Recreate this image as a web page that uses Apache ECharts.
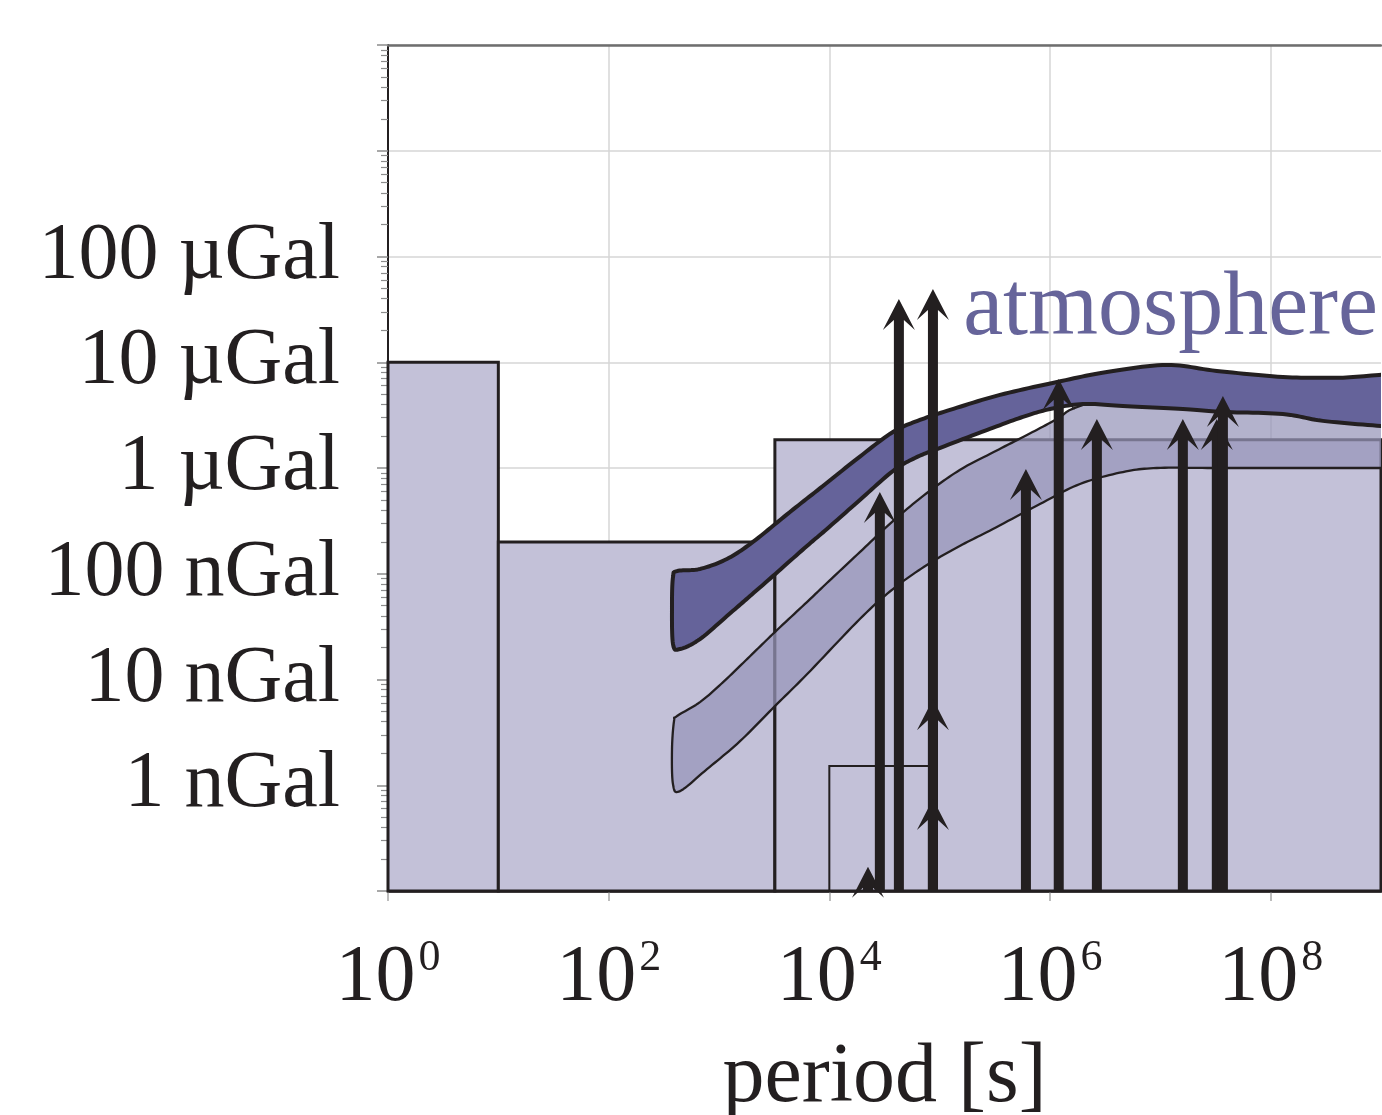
<!DOCTYPE html>
<html>
<head>
<meta charset="utf-8">
<script src="https://cdn.jsdelivr.net/npm/echarts@6/dist/echarts.min.js"></script>
<style>
html, body { margin: 0; padding: 0; background: #fff; }
#chart { width: 1382px; height: 1115px; }
</style>
</head>
<body>
<div id="chart"></div>
<script>
// x: period [s], y: amplitude [nGal]
var xMin = 1, xMax = 1e9;
var yMin = 0.1, yMax = 1e7;
var xTicks = [1, 1e2, 1e4, 1e6, 1e8];
var yTickValues = [1, 10, 100, 1e3, 1e4, 1e5];
var yTickLabels = ['1 nGal', '10 nGal', '100 nGal', '1 µGal', '10 µGal', '100 µGal'];
var minorMantissa = [2, 3, 4, 5, 6, 7, 8, 9];
var minorDecades = [0.1, 1, 10, 100, 1e3, 1e4, 1e5, 1e6];

// boxes: period from, period to, amplitude top
var boxFrom = [1, 10, 3210];
var boxTo = [10, 3210, 1e9];
var boxTop = [1e4, 200, 1850];
var smallBox = [1e4, 82000, 1.52];

// atmosphere, dark band (runs a little past the right edge, clipped)
var atmUpperP = [416, 672, 1180, 2030, 4400, 8750, 17800, 37700, 66200, 124000, 352000, 1.16e6, 3.28e6, 1.15e7, 3.25e7, 1.29e8, 4e8, 2e9];
var atmUpperA = [106, 111, 138, 200, 384, 676, 1220, 2190, 2845, 3540, 4910, 6510, 8090, 9430, 8280, 7260, 7120, 7100];
var atmLowerP = [2e9, 1e9, 2.97e8, 1.29e8, 3.69e7, 1.6e7, 4.58e6, 1.99e6, 1e6, 568000, 285000, 94400, 59700, 37700, 18900, 9510, 6270, 3080, 1910, 1180, 672, 443];
var atmLowerA = [2450, 2500, 2790, 3240, 3390, 3610, 3860, 4030, 3610, 3040, 2340, 1510, 1244, 937, 498, 265, 183, 95, 61.5, 39.8, 24.1, 19.4];
var atmCapP = [383, 375, 383];
var atmCapA = [21.6, 51.7, 93];

// atmosphere, lighter band
var band2UpperP = [416, 672, 1090, 1910, 3210, 6270, 9510, 18900, 37700, 76600, 152000, 285000, 618000, 1.16e6, 1.68e6, 4.3e6, 3.47e7, 1e9, 2e9];
var band2UpperA = [4.51, 6.11, 9.45, 16.6, 28.1, 54, 81.7, 160, 315, 580, 957, 1356, 2052, 2910, 3698, 4700, 4700, 3780, 3700];
var band2LowerP = [2e9, 1e9, 1.5e8, 3e7, 9.3e6, 4.58e6, 1.87e6, 810000, 304000, 152000, 76600, 37700, 18900, 6270, 3210, 1550, 778, 443];
var band2LowerA = [1000, 1000, 1000, 1000, 1000, 916, 706, 456, 265, 183, 121, 71.7, 37.3, 11.2, 5.6, 2.61, 1.42, 0.88];
var band2CapP = [383, 375, 391];
var band2CapA = [1.02, 2.2, 4.04];

// tidal lines
var tidePeriods = [22400, 28700, 42700, 86900, 86900, 86900, 605000, 1.2e6, 2.66e6, 1.6e7, 3.25e7, 3.69e7];
var tideAmps = [0.17, 593, 39700, 49400, 6.5, 0.74, 979, 6950, 2910, 2910, 2910, 4800];

var FONT = 'Liberation Serif';
var INK = '#231f20';

function zip(a, b) {
  return a.map(function (v, i) { return [v, b[i]]; });
}

var minorTicks = [];
minorDecades.forEach(function (d) {
  minorMantissa.forEach(function (m) { minorTicks.push(d * m); });
});

// closed catmull-rom through the outline, sampled densely (pixel space)
function smoothLoop(px) {
  var out = [], n = px.length, steps = 12;
  for (var i = 0; i < n; i++) {
    var p0 = px[(i - 1 + n) % n], p1 = px[i], p2 = px[(i + 1) % n], p3 = px[(i + 2) % n];
    var c1 = [p1[0] + (p2[0] - p0[0]) / 6, p1[1] + (p2[1] - p0[1]) / 6];
    var c2 = [p2[0] - (p3[0] - p1[0]) / 6, p2[1] - (p3[1] - p1[1]) / 6];
    for (var s = 0; s < steps; s++) {
      var t = s / steps, u = 1 - t;
      out.push([
        u * u * u * p1[0] + 3 * u * u * t * c1[0] + 3 * u * t * t * c2[0] + t * t * t * p2[0],
        u * u * u * p1[1] + 3 * u * u * t * c1[1] + 3 * u * t * t * c2[1] + t * t * t * p2[1]
      ]);
    }
  }
  return out;
}

function bandSeries(pts, style) {
  return {
    type: 'custom',
    coordinateSystem: 'cartesian2d',
    silent: true,
    clip: true,
    data: pts,
    renderItem: function (params, api) {
      if (params.dataIndex !== 0) return null;
      var px = pts.map(function (p) { return api.coord(p); });
      return {
        type: 'polygon',
        shape: { points: smoothLoop(px) },
        style: style
      };
    }
  };
}

var atmPts = zip(atmUpperP, atmUpperA).concat(zip(atmLowerP, atmLowerA), zip(atmCapP, atmCapA));
var band2Pts = zip(band2UpperP, band2UpperA).concat(zip(band2LowerP, band2LowerA), zip(band2CapP, band2CapA));

var chart = echarts.init(document.getElementById('chart'));

var option = {
  animation: false,
  grid: { left: 388, right: 1, top: 45, bottom: 224, outerBoundsMode: 'none', containLabel: false },
  xAxis: [{
    type: 'log',
    logBase: 10,
    min: xMin,
    max: xMax,
    name: 'period [s]',
    nameLocation: 'middle',
    nameGap: 146,
    nameTextStyle: { fontFamily: FONT, fontSize: 84, color: INK },
    axisLine: { lineStyle: { color: INK, width: 2.5 } },
    axisTick: { show: true, length: 10, customValues: xTicks, lineStyle: { color: '#a8a8a8', width: 1.5 } },
    splitLine: { show: true, lineStyle: { color: '#d6d6d6', width: 1.5 } },
    axisLabel: {
      customValues: xTicks,
      margin: 45,
      formatter: function (v) {
        return '{b|10}{s|' + Math.round(Math.log10(v)) + '}';
      },
      rich: {
        b: { fontFamily: FONT, fontSize: 80, color: INK },
        s: { fontFamily: FONT, fontSize: 44, color: INK, padding: [0, 0, 42, 3] }
      }
    }
  }, {
    type: 'log',
    min: xMin,
    max: xMax,
    position: 'top',
    axisLine: { lineStyle: { color: '#6e6e6e', width: 2.5 } },
    axisTick: { show: false },
    axisLabel: { show: false },
    splitLine: { show: false }
  }],
  yAxis: [{
    type: 'log',
    logBase: 10,
    min: yMin,
    max: yMax,
    splitNumber: 8,
    axisLine: { show: true, lineStyle: { color: INK, width: 2 } },
    axisTick: { show: true, length: 11, lineStyle: { color: '#8c8c8c', width: 1.5 } },
    splitLine: { show: true, lineStyle: { color: '#d6d6d6', width: 1.5 } },
    axisLabel: {
      margin: 48,
      fontFamily: FONT,
      fontSize: 80,
      color: INK,
      formatter: function (v) {
        var e = Math.round(Math.log10(v));
        var i = yTickValues.indexOf(Math.pow(10, e));
        return i >= 0 ? yTickLabels[i] : '';
      }
    }
  }, {
    type: 'log',
    min: yMin,
    max: yMax,
    position: 'left',
    axisLine: { show: false },
    axisLabel: { show: false },
    splitLine: { show: false },
    axisTick: { show: true, length: 7, customValues: minorTicks, lineStyle: { color: '#8c8c8c', width: 1.2 } }
  }],
  graphic: [{
    type: 'text',
    x: 1378,
    y: 310,
    style: {
      text: 'atmosphere',
      font: '90px "' + FONT + '"',
      fill: '#66649a',
      align: 'right',
      verticalAlign: 'middle'
    },
    z: 100
  }],
  series: [
    {
      type: 'custom',
      coordinateSystem: 'cartesian2d',
      silent: true,
      data: boxFrom.map(function (v, i) { return [v, boxTo[i], boxTop[i]]; }),
      encode: { x: [0, 1], y: 2 },
      renderItem: function (params, api) {
        var p0 = api.coord([api.value(0), api.value(2)]);
        var p1 = api.coord([api.value(1), yMin]);
        return {
          type: 'rect',
          shape: { x: p0[0], y: p0[1], width: p1[0] - p0[0], height: p1[1] - p0[1] },
          style: { fill: '#c3c1d8', stroke: INK, lineWidth: 3 }
        };
      }
    },
    {
      type: 'custom',
      coordinateSystem: 'cartesian2d',
      silent: true,
      data: [smallBox],
      encode: { x: [0, 1], y: 2 },
      renderItem: function (params, api) {
        var p0 = api.coord([api.value(0), api.value(2)]);
        var p1 = api.coord([api.value(1), yMin]);
        return {
          type: 'rect',
          shape: { x: p0[0], y: p0[1], width: p1[0] - p0[0], height: p1[1] - p0[1] },
          style: { fill: 'none', stroke: INK, lineWidth: 2 }
        };
      }
    },
    bandSeries(band2Pts, { fill: 'rgba(151,149,185,0.73)', stroke: INK, lineWidth: 2.3, lineJoin: 'round' }),
    bandSeries(atmPts, { fill: '#65639a', stroke: INK, lineWidth: 4, lineJoin: 'round' }),
    {
      type: 'custom',
      coordinateSystem: 'cartesian2d',
      silent: true,
      data: zip(tidePeriods, tideAmps),
      renderItem: function (params, api) {
        var tip = api.coord([api.value(0), api.value(1)]);
        var base = api.coord([api.value(0), yMin]);
        var x = tip[0], t = tip[1], b = base[1];
        return {
          type: 'polygon',
          shape: {
            points: [[x, t], [x + 16, t + 31], [x + 5, t + 21], [x + 5, b], [x - 5, b], [x - 5, t + 21], [x - 16, t + 31]]
          },
          style: { fill: INK }
        };
      }
    }
  ]
};

chart.setOption(option);
</script>
</body>
</html>
